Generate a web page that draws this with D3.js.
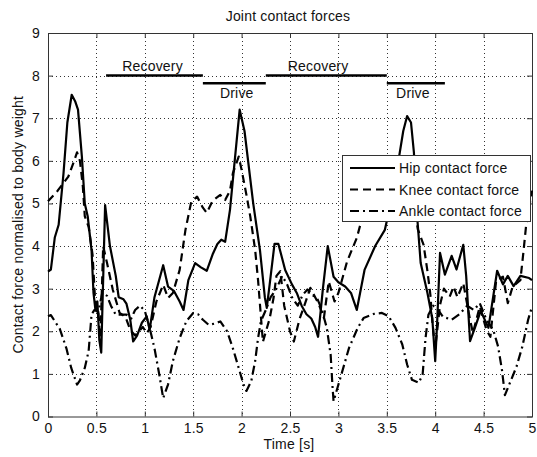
<!DOCTYPE html>
<html>
<head>
<meta charset="utf-8">
<script src="https://cdn.jsdelivr.net/npm/d3@7"></script>
<style>
  body { margin: 0; background: #fff; }
  text { font-family: Arial, "Liberation Sans", sans-serif; fill: #111; letter-spacing: 0.2px; }
</style>
</head>
<body>
<svg width="537" height="457"></svg>
<script>
// time axis ticks / value ticks
var xTicks = [0, 0.5, 1, 1.5, 2, 2.5, 3, 3.5, 4, 4.5, 5];
var yTicks = [0, 1, 2, 3, 4, 5, 6, 7, 8, 9];

// hip contact force (solid)
var hipT = [0, 0.03, 0.07, 0.11, 0.16, 0.2, 0.245, 0.28, 0.31, 0.35, 0.38, 0.41, 0.45, 0.47, 0.49, 0.51, 0.53, 0.55, 0.59, 0.64, 0.7, 0.73, 0.78, 0.81, 0.85, 0.88, 0.92, 0.97, 1.02, 1.05, 1.1, 1.19, 1.24, 1.3, 1.36, 1.4, 1.45, 1.52, 1.58, 1.64, 1.7, 1.75, 1.79, 1.83, 1.88, 1.95, 1.98, 2.03, 2.12, 2.19, 2.24, 2.26, 2.29, 2.34, 2.38, 2.45, 2.52, 2.57, 2.62, 2.67, 2.72, 2.76, 2.79, 2.84, 2.89, 2.95, 3.0, 3.07, 3.13, 3.19, 3.27, 3.38, 3.48, 3.56, 3.62, 3.67, 3.71, 3.75, 3.78, 3.81, 3.85, 3.92, 3.97, 4.0, 4.02, 4.05, 4.1, 4.17, 4.22, 4.29, 4.32, 4.36, 4.41, 4.47, 4.55, 4.64, 4.7, 4.75, 4.81, 4.88, 4.97, 5.0];
var hipV = [3.4, 3.45, 4.2, 4.5, 5.7, 6.9, 7.55, 7.4, 7.2, 6.1, 5.0, 4.7, 3.9, 2.9, 2.5, 2.7, 1.8, 1.5, 4.96, 4.0, 3.3, 2.8, 2.75, 2.65, 2.27, 1.76, 1.9, 2.2, 2.35, 2.03, 2.8, 3.55, 3.05, 2.95, 2.7, 2.5, 3.2, 3.6, 3.5, 3.42, 3.8, 4.05, 4.15, 4.1, 4.85, 6.5, 7.2, 6.7, 5.0, 3.9, 2.8, 2.55, 3.1, 4.05, 4.05, 3.44, 3.1, 2.9, 2.6, 2.4, 2.3, 2.1, 1.87, 3.0, 4.0, 3.28, 3.15, 3.05, 2.9, 2.5, 3.44, 4.0, 4.38, 5.2, 6.0, 6.7, 7.05, 6.9, 6.2, 4.8, 3.6, 2.9, 2.3, 1.3, 2.2, 3.84, 3.33, 3.77, 3.45, 4.03, 3.3, 1.77, 2.08, 2.48, 2.08, 3.42, 3.1, 3.3, 3.06, 3.3, 3.25, 3.2];

// knee contact force (dashed)
var kneeT = [0, 0.1, 0.21, 0.27, 0.3, 0.33, 0.36, 0.38, 0.42, 0.46, 0.49, 0.52, 0.54, 0.57, 0.61, 0.67, 0.74, 0.8, 0.85, 0.9, 0.98, 1.02, 1.06, 1.12, 1.19, 1.24, 1.29, 1.36, 1.42, 1.48, 1.54, 1.6, 1.64, 1.7, 1.78, 1.83, 1.88, 1.91, 1.97, 2.0, 2.05, 2.09, 2.14, 2.17, 2.22, 2.29, 2.33, 2.36, 2.4, 2.44, 2.5, 2.54, 2.6, 2.64, 2.71, 2.76, 2.8, 2.85, 2.9, 2.96, 3.0, 3.09, 3.19, 3.25, 3.3, 3.4, 3.55, 3.68, 3.76, 3.82, 3.88, 3.92, 3.95, 3.97, 4.0, 4.05, 4.09, 4.15, 4.19, 4.23, 4.29, 4.36, 4.39, 4.46, 4.53, 4.57, 4.63, 4.7, 4.75, 4.8, 4.88, 4.91, 4.94, 5.0];
var kneeV = [5.05, 5.3, 5.63, 6.0, 6.2, 6.0, 5.4, 4.7, 4.45, 3.8, 2.6, 2.5, 1.7, 4.0, 3.6, 2.97, 2.43, 2.34, 2.03, 1.9, 2.1, 1.95, 2.1, 2.7, 3.09, 2.78, 2.9, 3.44, 4.38, 5.04, 5.16, 4.9, 4.78, 5.06, 5.2, 5.08, 5.3, 5.71, 6.1, 5.79, 5.2, 4.69, 3.91, 3.2, 1.75, 2.3, 2.78, 3.3, 3.41, 2.6, 2.0, 1.76, 2.3, 2.55, 3.02, 2.8, 2.62, 2.31, 3.17, 2.7, 2.9, 3.64, 4.19, 4.7, 5.1, 5.5, 5.8, 6.0, 5.4, 4.4, 4.03, 3.41, 2.86, 2.24, 1.6, 2.62, 3.0, 2.81, 3.05, 2.8, 3.13, 2.27, 1.96, 2.58, 2.03, 1.87, 3.2, 3.28, 2.66, 3.05, 3.2, 3.83, 4.5, 5.3];

// ankle contact force (dash-dot)
var ankleT = [0, 0.03, 0.08, 0.12, 0.19, 0.24, 0.3, 0.33, 0.38, 0.42, 0.45, 0.48, 0.52, 0.56, 0.61, 0.65, 0.7, 0.81, 0.86, 0.9, 0.95, 1.0, 1.05, 1.1, 1.15, 1.19, 1.24, 1.29, 1.36, 1.43, 1.5, 1.55, 1.6, 1.66, 1.72, 1.78, 1.85, 1.91, 1.97, 2.02, 2.05, 2.1, 2.14, 2.17, 2.2, 2.25, 2.3, 2.36, 2.42, 2.47, 2.52, 2.58, 2.63, 2.68, 2.73, 2.78, 2.83, 2.88, 2.92, 2.94, 2.95, 2.99, 3.04, 3.11, 3.2, 3.26, 3.37, 3.45, 3.52, 3.59, 3.66, 3.71, 3.76, 3.83, 3.87, 3.9, 3.93, 3.98, 4.03, 4.08, 4.17, 4.25, 4.33, 4.4, 4.46, 4.53, 4.6, 4.65, 4.69, 4.71, 4.72, 4.77, 4.84, 4.9, 4.96, 5.0];
var ankleV = [2.35, 2.38, 2.2, 2.07, 1.6, 1.14, 0.75, 0.85, 1.14, 1.54, 2.4, 2.5, 2.45, 2.9, 2.83, 2.6, 2.39, 2.39, 2.3, 2.5, 2.6, 2.48, 2.08, 1.6, 0.98, 0.43, 0.75, 1.3, 1.84, 2.24, 2.43, 2.4, 2.27, 2.15, 2.18, 2.23, 2.0, 1.6, 1.14, 0.75, 0.6, 0.83, 1.3, 1.84, 2.24, 2.5, 2.8, 3.0, 3.3, 3.1, 2.8, 2.6, 2.85, 2.98, 2.85, 2.78, 2.5, 2.08, 1.45, 0.67, 0.36, 0.67, 1.06, 1.61, 2.08, 2.31, 2.41, 2.43, 2.35, 2.08, 1.69, 1.22, 0.86, 0.79, 0.98, 1.84, 2.39, 2.6, 2.5, 2.34, 2.27, 2.4, 2.6, 2.5, 2.66, 2.27, 2.03, 1.64, 1.09, 0.7, 0.5, 0.78, 1.17, 1.64, 2.27, 2.58];

// rowing phases
var phaseNames = ["Recovery", "Drive", "Recovery", "Drive"];
var phaseStart = [0.6, 1.6, 2.25, 3.5];
var phaseEnd = [1.6, 2.25, 3.5, 4.1];
var phaseLevel = [8, 7.82, 8, 7.82];
var phaseLabelT = [1.08, 1.95, 2.79, 3.77];

var seriesNames = ["Hip contact force", "Knee contact force", "Ankle contact force"];
var seriesDash = [null, "8,5", "9,4,2,4"];

var plotLeft = 48, plotRight = 532, plotTop = 33, plotBottom = 416.5;
var fontSize = 14;

var svg = d3.select("svg");

var x = d3.scaleLinear().domain([0, 5]).range([plotLeft, plotRight]);
var y = d3.scaleLinear().domain([0, 9]).range([plotBottom, plotTop]);

// grid
var grid = svg.append("g").attr("stroke", "#333").attr("stroke-width", 1).attr("stroke-dasharray", "1,3");
grid.selectAll(".gx").data(xTicks.slice(1, -1)).enter().append("line")
    .attr("x1", function(d) { return Math.round(x(d)) + 0.5; })
    .attr("x2", function(d) { return Math.round(x(d)) + 0.5; })
    .attr("y1", plotTop).attr("y2", plotBottom);
grid.selectAll(".gy").data(yTicks.slice(1, -1)).enter().append("line")
    .attr("y1", function(d) { return Math.round(y(d)) + 0.5; })
    .attr("y2", function(d) { return Math.round(y(d)) + 0.5; })
    .attr("x1", plotLeft).attr("x2", plotRight);

// axes, ticks inside like matlab
svg.append("g").attr("transform", "translate(0," + plotBottom + ")")
    .call(d3.axisBottom(x).tickValues(xTicks).tickFormat(d3.format("")).tickSizeInner(-5).tickSizeOuter(0).tickPadding(7));
svg.append("g").attr("transform", "translate(0," + plotTop + ")")
    .call(d3.axisTop(x).tickValues(xTicks).tickFormat("").tickSizeInner(-5).tickSizeOuter(0));
svg.append("g").attr("transform", "translate(" + plotLeft + ",0)")
    .call(d3.axisLeft(y).tickValues(yTicks).tickSizeInner(-5).tickSizeOuter(0).tickPadding(8));
svg.append("g").attr("transform", "translate(" + plotRight + ",0)")
    .call(d3.axisRight(y).tickValues(yTicks).tickFormat("").tickSizeInner(-5).tickSizeOuter(0));
svg.selectAll(".domain").remove();
svg.selectAll(".tick line").attr("stroke", "#333");
svg.selectAll(".tick text").attr("font-size", fontSize).attr("font-family", "Arial, 'Liberation Sans', sans-serif").attr("fill", "#111");

svg.append("rect")
    .attr("x", plotLeft + 0.5).attr("y", plotTop + 0.5)
    .attr("width", plotRight - plotLeft).attr("height", plotBottom - plotTop)
    .attr("fill", "none").attr("stroke", "#333").attr("stroke-width", 1);

// curves
var line = d3.line()
    .x(function(d) { return x(d[0]); })
    .y(function(d) { return y(d[1]); });

var allT = [hipT, kneeT, ankleT];
var allV = [hipV, kneeV, ankleV];
[2, 1, 0].forEach(function(i) {
    var pts = d3.zip(allT[i], allV[i]);
    svg.append("path")
        .datum(pts)
        .attr("d", line)
        .attr("fill", "none")
        .attr("stroke", "#000")
        .attr("stroke-width", 2.2)
        .attr("stroke-linejoin", "round")
        .attr("stroke-dasharray", seriesDash[i]);
});

// phase bars
svg.selectAll(".phase").data(phaseNames).enter().append("line")
    .attr("x1", function(d, i) { return x(phaseStart[i]); })
    .attr("x2", function(d, i) { return x(phaseEnd[i]); })
    .attr("y1", function(d, i) { return y(phaseLevel[i]); })
    .attr("y2", function(d, i) { return y(phaseLevel[i]); })
    .attr("stroke", "#000").attr("stroke-width", 2.5);
svg.selectAll(".phaseLabel").data(phaseNames).enter().append("text")
    .attr("x", function(d, i) { return x(phaseLabelT[i]); })
    .attr("y", function(d, i) { return d == "Drive" ? y(phaseLevel[i]) + 15 : y(phaseLevel[i]) - 5; })
    .attr("text-anchor", "middle")
    .attr("font-size", fontSize)
    .text(function(d) { return d; });

// legend
var lg = svg.append("g");
lg.append("rect").attr("x", 342.5).attr("y", 155.5).attr("width", 188).attr("height", 66)
    .attr("fill", "#fff").attr("stroke", "#333");
seriesNames.forEach(function(name, i) {
    var yy = 168 + i * 21.5;
    lg.append("line").attr("x1", 350).attr("x2", 395).attr("y1", yy).attr("y2", yy)
        .attr("stroke", "#000").attr("stroke-width", 2).attr("stroke-dasharray", seriesDash[i]);
    lg.append("text").attr("x", 399).attr("y", yy + 5).attr("font-size", fontSize).text(name);
});

// titles
svg.append("text").attr("x", 288).attr("y", 21).attr("text-anchor", "middle").attr("font-size", fontSize)
    .text("Joint contact forces");
svg.append("text").attr("x", 289).attr("y", 449).attr("text-anchor", "middle").attr("font-size", fontSize)
    .text("Time [s]");
svg.append("text").attr("transform", "translate(23," + ((plotTop + plotBottom) / 2) + ") rotate(-90)")
    .attr("text-anchor", "middle").attr("font-size", fontSize)
    .text("Contact force normalised to body weight");
</script>
</body>
</html>
